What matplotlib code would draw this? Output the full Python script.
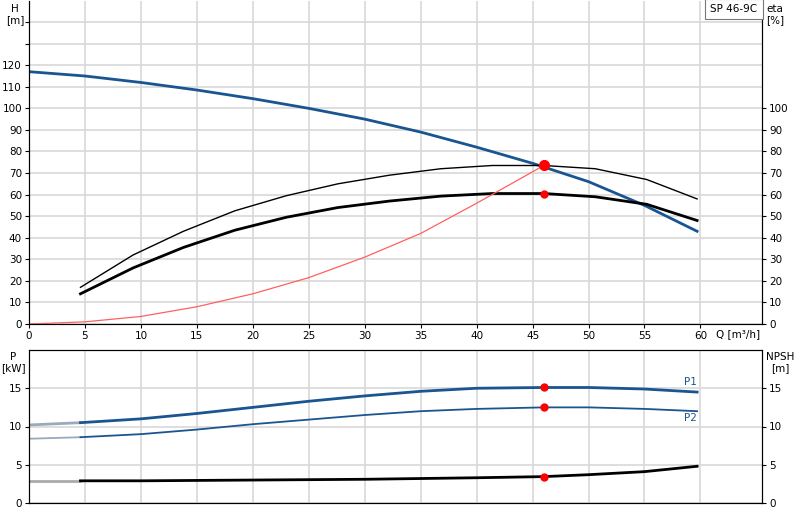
import matplotlib
matplotlib.use("Agg")
import matplotlib.pyplot as plt

q_h = [0, 5, 10, 15, 20, 25, 30, 35, 40, 45, 50, 55, 59.7]
h = [117, 115, 112, 108.5, 104.5, 100, 95, 89, 82, 74.5, 66, 55, 43]
q_eta = [4.6, 9.3, 13.8, 18.4, 23, 27.6, 32.2, 36.8, 41.4, 46, 50.6, 55.2, 59.7]
eta_pump = [17, 32, 43, 52.5, 59.5, 65, 69, 72, 73.5, 73.5, 72, 67, 58]
eta_total = [14, 26, 35.5, 43.5, 49.5, 54, 57, 59.3, 60.5, 60.5, 59, 55.5, 48]
q_sys = [0, 5, 10, 15, 20, 25, 30, 35, 40, 46]
h_sys = [0, 1, 3.5, 8, 14, 21.5, 31, 42, 56, 73.5]
op_q = 46
op_h = 73.5
op_eta = 60.5

q_p = [0, 4.6, 10, 15, 20, 25, 30, 35, 40, 46, 50, 55, 59.7]
p1 = [10.2, 10.5, 11, 11.7, 12.5, 13.3, 14, 14.6, 15, 15.1, 15.1, 14.9, 14.5]
p2 = [8.4, 8.6, 9, 9.6, 10.3, 10.9, 11.5, 12, 12.3, 12.5, 12.5, 12.3, 12]
q_n = [0, 4.6, 10, 20, 30, 40, 46, 50, 55, 59.7]
npsh = [2.9, 2.9, 2.9, 3.0, 3.1, 3.3, 3.45, 3.7, 4.1, 4.8]
op_p1, op_p2, op_npsh = 15.1, 12.5, 3.45

blue = "#1a5591"
grid = "#d8d8d8"
W, H = 800, 520
fig = plt.figure(figsize=(8, 5.2), dpi=100)
L, R = 29 / W, 762 / W
ax = fig.add_axes([L, 1 - 324 / H, R - L, 324 / H - 0.001])
ax.set_xlim(0, 65.5)
ax.set_ylim(0, 150)
ax.set_xticks(range(0, 61, 5))
ax.set_yticks(range(0, 150, 10))
ax.set_yticklabels([str(v) if v <= 120 else "" for v in range(0, 150, 10)])
ax.grid(True, color=grid, lw=1.2)
ax.tick_params(labelsize=7.5, length=3, pad=2)
ax.spines["top"].set_visible(False)
ax.spines["bottom"].set_color("#777")
ax.plot(q_h, h, color=blue, lw=2)
ax.plot(q_eta, eta_pump, color="black", lw=1)
ax.plot(q_eta, eta_total, color="black", lw=2)
ax.plot(q_sys, h_sys, color="#ff6060", lw=0.9)
ax.plot([op_q], [op_h], "o", color="red", ms=7)
ax.plot([op_q], [op_eta], "o", color="red", ms=5)
ax2 = ax.twinx()
ax2.set_ylim(0, 150)
ax2.set_yticks(range(0, 101, 10))
ax2.tick_params(labelsize=7.5, length=3, pad=2)
ax2.spines["top"].set_visible(False)
fig.text(15 / W, 1 - 4 / H, "H\n[m]", ha="center", va="top", fontsize=7.5, linespacing=1.1)
fig.text(775 / W, 1 - 4 / H, "eta\n[%]", ha="center", va="top", fontsize=7.5, linespacing=1.1)
fig.text(734 / W, 1 - 9 / H, "SP 46-9C", ha="center", va="center", fontsize=7.5,
         bbox=dict(boxstyle="square,pad=0.5", fc="white", ec="#777", lw=0.8))
fig.text(738 / W, 1 - 334 / H, "Q [m³/h]", ha="center", va="center", fontsize=7.5)

bx = fig.add_axes([L, 1 - 503 / H, R - L, 153 / H])
bx.set_xlim(0, 65.5)
bx.set_ylim(0, 20)
bx.set_xticks(range(0, 61, 5))
bx.set_xticklabels([])
bx.tick_params(axis="x", length=0)
bx.set_yticks([0, 5, 10, 15])
bx.grid(True, color=grid, lw=1.2)
bx.tick_params(axis="y", labelsize=7.5, length=3, pad=2)
bx.plot(q_p[:2], p1[:2], color="#9aaabb", lw=2)
bx.plot(q_p[1:], p1[1:], color=blue, lw=2)
bx.plot(q_p[:2], p2[:2], color="#9aaabb", lw=1.3)
bx.plot(q_p[1:], p2[1:], color=blue, lw=1.3)
bx.plot(q_n[:2], npsh[:2], color="#aaaaaa", lw=2)
bx.plot(q_n[1:], npsh[1:], color="black", lw=2)
for v in (op_p1, op_p2, op_npsh):
    bx.plot([op_q], [v], "o", color="red", ms=5)
bx.text(58.5, 15.4, "P1", color=blue, fontsize=7.5)
bx.text(58.5, 10.7, "P2", color=blue, fontsize=7.5)
bx2 = bx.twinx()
bx2.set_ylim(0, 20)
bx2.set_yticks([0, 5, 10, 15])
bx2.tick_params(axis="y", labelsize=7.5, length=3, pad=2)
bx2.tick_params(axis="x", length=0)
fig.text(13 / W, 1 - 352 / H, "P\n[kW]", ha="center", va="top", fontsize=7.5, linespacing=1.1)
fig.text(780 / W, 1 - 352 / H, "NPSH\n[m]", ha="center", va="top", fontsize=7.5, linespacing=1.1)
fig.savefig("out.png", dpi=100)
